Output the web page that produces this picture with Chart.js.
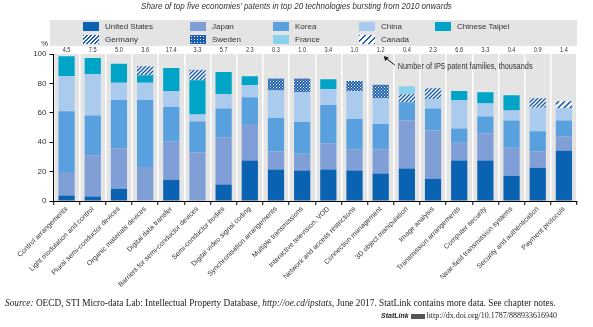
<!DOCTYPE html>
<html>
<head>
<meta charset="utf-8">
<script src="https://cdn.jsdelivr.net/npm/chart.js@4.4.1/dist/chart.umd.min.js"></script>
<style>
  html, body { margin:0; padding:0; background:#fff; }
  #wrap { position:relative; width:593px; height:327px; overflow:hidden; font-family:"Liberation Sans Narrow","Arial Narrow","Liberation Sans",Arial,sans-serif; color:#333; }
  #c { position:absolute; left:0; top:0; }
  #title { position:absolute; left:0; width:593px; top:1px; text-align:center; font-style:italic; font-size:9px; color:#333; transform:scaleX(0.89); transform-origin:296px 0; }
  #legend { position:absolute; left:50px; top:20px; width:527px; height:26px; background:#e4e4e4; }
  .li { position:absolute; font-size:8px; line-height:9px; white-space:nowrap; }
  .sw { position:absolute; width:16px; height:9px; }
  #pct { position:absolute; left:41px; top:39px; font-size:8px; font-family:"Liberation Sans",Arial,sans-serif; }
  #src { position:absolute; left:5px; top:298px; font-family:"Liberation Serif","DejaVu Serif",serif; font-size:9.3px; white-space:nowrap; color:#222; }
  #stat { position:absolute; right:36px; top:311px; font-family:"Liberation Serif","DejaVu Serif",serif; font-size:8px; white-space:nowrap; color:#222; }
</style>
</head>
<body>
<div id="wrap">
  <canvas id="c" width="593" height="327"></canvas>
  <div id="title">Share of top five economies’ patents in top 20 technologies bursting from 2010 onwards</div>
  <div id="legend"></div>
  <div id="pct">%</div>
  <div id="src"><i>Source:</i> OECD, STI Micro-data Lab: Intellectual Property Database, <i>http://oe.cd/ipstats</i>, June 2017. StatLink contains more data. See chapter notes.</div>
  <div id="stat"><i style="font-family:'Liberation Sans',sans-serif;font-weight:bold;font-size:7px;">StatLink</i> <span style="display:inline-block;width:14px;height:5px;background:#555;vertical-align:middle;"></span> http://dx.doi.org/10.1787/888933616940</div>
</div>
<script>
// ---- Data ----
const categories = [
  "Control arrangements","Light modulation and control","Plural semi-conductor devices",
  "Organic materials devices","Digital data transfer","Barriers for semi-conductor devices",
  "Semi-conductor bodies","Digital video signal coding","Synchronisation arrangements",
  "Multiple transmissions","Interactive television, VOD","Network and access restrictions",
  "Connection management","3D object manipulation","Image analysis","Transmission arrangements",
  "Computer security","Near-field transmission systems","Security and authentication","Payment protocols"
];
const unitedStates  = [3.7,3.0,8.4,null,14.4,null,11.2,27.6,21.5,20.8,21.5,20.8,18.7,22.1,15.2,27.6,27.6,17.1,22.6,34.2];
const japan         = [16.1,28.1,27.4,23.1,26.2,33.1,32.2,24.7,12.1,11.4,17.8,14.4,16.5,32.9,32.7,12.1,18.3,19.2,11.0,9.9];
const korea         = [41.3,27.1,32.9,45.6,23.3,21.0,19.6,18.2,22.8,21.5,26.0,20.5,17.1,12.1,15.1,9.6,11.6,18.5,13.9,10.7];
const china         = [23.7,28.1,11.7,11.7,11.0,4.8,9.6,8.3,18.7,20.3,10.7,19.0,17.6,null,6.4,19.4,8.9,6.8,16.0,8.4];
const chineseTaipei = [13.7,11.0,13.0,5.2,15.5,23.3,15.1,6.1,null,null,6.9,null,null,null,null,6.2,7.6,10.3,null,null];
const germany       = [null,null,null,6.0,null,7.1,null,null,null,null,null,null,null,5.5,7.3,null,null,null,6.4,null];
const sweden        = [null,null,null,null,null,null,null,null,8.2,9.3,null,7.0,9.1,null,null,null,null,null,null,null];
const france        = [null,null,null,null,null,null,null,null,null,null,null,null,null,5.5,null,null,null,null,null,null];
const canada        = [null,null,null,null,null,null,null,null,null,null,null,null,null,null,null,null,null,null,null,4.6];
const familyCounts  = ["4.5","7.5","5.0","3.6","17.4","3.3","5.7","2.3","0.3","1.0","3.4","1.0","1.2","0.4","2.3","6.6","3.3","0.4","0.9","1.4"];
const yTicks = [0,20,40,60,80,100];
const annotationText = "Number of IP5 patent families, thousands";

// ---- Styles ----
const C_US="#0a62b2", C_JP="#809fd6", C_KR="#58a0de", C_CN="#aacbee", C_TW="#00a4c6", C_FR="#8ad1ec", C_PAT="#1d5fae";
function mkPattern(kind){
  const t=document.createElement('canvas');
  const g=t.getContext('2d');
  if(kind==='de'){
    t.width=t.height=4;
    g.fillStyle='#fff';g.fillRect(0,0,4,4);
    g.strokeStyle=C_PAT;g.lineWidth=1.5;
    g.beginPath();g.moveTo(-1,5);g.lineTo(5,-1);g.moveTo(-1,1);g.lineTo(1,-1);g.moveTo(3,5);g.lineTo(5,3);g.stroke();
  } else if(kind==='ca'){
    t.width=t.height=6;
    g.fillStyle='#fff';g.fillRect(0,0,6,6);
    g.strokeStyle=C_PAT;g.lineWidth=1.6;
    g.beginPath();g.moveTo(-1,7);g.lineTo(7,-1);g.moveTo(-1,1);g.lineTo(1,-1);g.moveTo(5,7);g.lineTo(7,5);g.stroke();
  } else {
    t.width=t.height=3;
    g.fillStyle=C_PAT;g.fillRect(0,0,3,3);
    g.fillStyle='#fff';g.fillRect(0,0,1,1);g.fillRect(1.5,1.5,1,1);
  }
  return t;
}
const ctxMain=document.getElementById('c').getContext('2d');
const P_DE=ctxMain.createPattern(mkPattern('de'),'repeat');
const P_SE=ctxMain.createPattern(mkPattern('se'),'repeat');
const P_CA=ctxMain.createPattern(mkPattern('ca'),'repeat');

const series=[
  {label:"United States",data:unitedStates,bg:C_US,css:C_US},
  {label:"Japan",data:japan,bg:C_JP,css:C_JP},
  {label:"Korea",data:korea,bg:C_KR,css:C_KR},
  {label:"China",data:china,bg:C_CN,css:C_CN},
  {label:"Chinese Taipei",data:chineseTaipei,bg:C_TW,css:C_TW},
  {label:"Germany",data:germany,bg:P_DE,css:"repeating-linear-gradient(-45deg,"+C_PAT+" 0 1.2px,#fff 1.2px 2.8px)"},
  {label:"Sweden",data:sweden,bg:P_SE,css:"radial-gradient(#fff 0.6px, transparent 0.8px) 0 0/3px 3px, "+C_PAT},
  {label:"France",data:france,bg:C_FR,css:C_FR},
  {label:"Canada",data:canada,bg:P_CA,css:"repeating-linear-gradient(-45deg,"+C_PAT+" 0 1.4px,#fff 1.4px 4.2px)"}
];

// HTML legend
const legendCols=[33,140,223,309,385];
const lg=document.getElementById('legend');
series.forEach((s,i)=>{
  const row=i<5?0:1, col=i<5?i:i-5;
  const sw=document.createElement('div');sw.className='sw';
  sw.style.left=legendCols[col]+'px';sw.style.top=(row?15:2)+'px';sw.style.background=s.css;
  const tx=document.createElement('div');tx.className='li';tx.textContent=s.label;
  tx.style.left=(legendCols[col]+22)+'px';tx.style.top=(row?15:2)+'px';
  lg.appendChild(sw);lg.appendChild(tx);
});

const bgPlugin={id:'bg',beforeDraw(ch){const a=ch.chartArea,c=ch.ctx;c.save();c.fillStyle='#e4e4e4';c.fillRect(a.left,a.top,a.right-a.left,a.bottom-a.top);c.restore();}};
const topPlugin={id:'top',afterDraw(ch){
  const c=ch.ctx,xs=ch.scales.x,a=ch.chartArea;
  c.save();c.fillStyle='#333';c.font='7px "Liberation Sans",sans-serif';
  c.textAlign='center';c.textBaseline='middle';
  familyCounts.forEach((v,i)=>{
    c.save();c.translate(xs.getPixelForValue(i),a.top-4);c.scale(0.8,1);c.fillText(v,0,0);c.restore();
  });
  // annotation
  const x0=xs.getPixelForValue(12);
  c.strokeStyle='#111';c.fillStyle='#111';c.lineWidth=1;
  const hx=x0+3,hy=a.top+2,tx=x0+14,ty=a.top+11;
  c.beginPath();c.moveTo(tx,ty);c.lineTo(hx+2,hy+2);c.stroke();
  c.beginPath();c.moveTo(hx,hy);c.lineTo(hx+5,hy+1.5);c.lineTo(hx+1.5,hy+5);c.closePath();c.fill();
  c.fillStyle='#333';c.font='8.5px "Liberation Sans",sans-serif';
  c.textAlign='left';
  c.translate(tx+3,ty+1.5);c.scale(0.865,1);c.fillText(annotationText,0,0);
  c.restore();
}};

new Chart(ctxMain,{
  type:'bar',
  data:{labels:categories,datasets:series.map(s=>({label:s.label,data:s.data,backgroundColor:s.bg,borderWidth:0,barPercentage:0.62,categoryPercentage:1}))},
  options:{
    responsive:false,animation:false,devicePixelRatio:1,
    layout:{padding:{top:54,right:16,left:0,bottom:0}},
    plugins:{legend:{display:false},tooltip:{enabled:false}},
    scales:{
      x:{stacked:true,
        grid:{color:'#fff',lineWidth:1.5,offset:true,drawTicks:true,tickLength:4,tickColor:'#000',tickWidth:1},
        border:{display:true,color:'#000',width:1},
        ticks:{minRotation:45,maxRotation:45,autoSkip:false,padding:0,color:'#333',font:{family:'"Liberation Sans Narrow","Arial Narrow","Liberation Sans",sans-serif',size:7}},
        afterFit(s){s.height=327-201;}
      },
      y:{stacked:true,min:0,max:100,
        afterBuildTicks(s){s.ticks=yTicks.map(v=>({value:v}));},
        grid:{drawOnChartArea:false,drawTicks:true,tickLength:4,tickColor:'#000'},
        border:{display:true,color:'#000',width:1},
        ticks:{padding:3,color:'#333',font:{family:'"Liberation Sans",Arial,sans-serif',size:8}},
        afterFit(s){s.width=53.5;}
      }
    }
  },
  plugins:[bgPlugin,topPlugin]
});
</script>
</body>
</html>
